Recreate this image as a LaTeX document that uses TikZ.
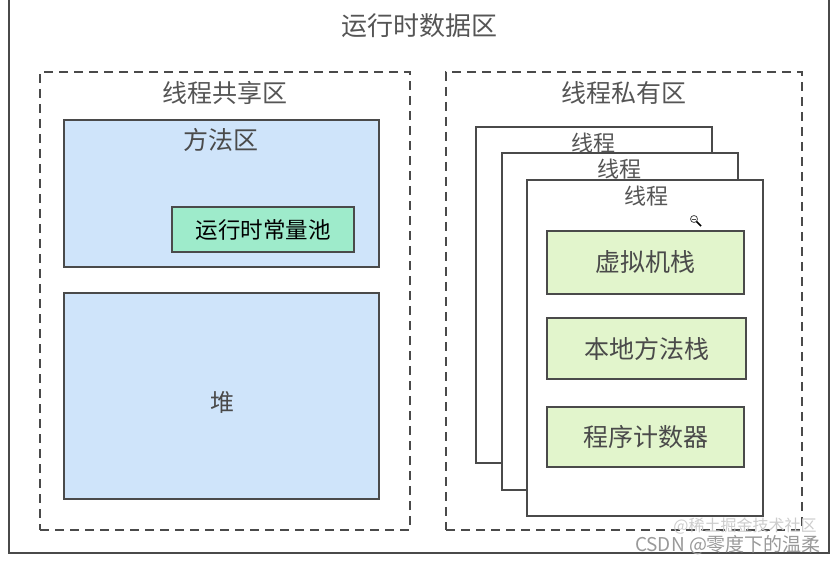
\documentclass[tikz,border=0pt]{standalone}
\usepackage{fontspec}
\setmainfont{Noto Sans CJK SC}
\definecolor{lineGray}{HTML}{4A4A4A}
\definecolor{txtGray}{HTML}{555555}
\definecolor{areaBlue}{HTML}{CFE4FA}
\definecolor{poolGreen}{HTML}{9EEBCB}
\definecolor{stackGreen}{HTML}{E2F5CC}

\begin{document}
\begin{tikzpicture}[x=1pt, y=-1pt,
    area/.style={draw=lineGray, line width=2pt, minimum width=#1, inner sep=0pt},
    zone/.style={draw=lineGray, line width=2pt, dash pattern=on 9pt off 6pt, inner sep=0pt},
    title/.style={text=txtGray, font=\fontsize{25}{28}\selectfont, inner sep=0pt},
    inbox/.style={text=lineGray, font=\fontsize{25}{28}\selectfont, inner sep=0pt}]
    \useasboundingbox (0,0) rectangle (840,561);
    \fill[white] (0,0) rectangle (840,561);
    % outer frame
    \node[area=820pt, minimum height=555pt] (rtdata) at (419,275.5) {};
    \node[title, font=\fontsize{26}{30}\selectfont] (rtdataT) at (419,26) {运行时数据区};
    % shared part
    \node[zone, minimum width=370pt, minimum height=458pt] (shared) at (225,301) {};
    \node[title] (sharedT) at (225,93) {线程共享区};
    \node[area=315pt, minimum height=147pt, fill=areaBlue] (method) at (221.5,193.5) {};
    \node[inbox] (methodT) at (221,140) {方法区};
    \node[area=182pt, minimum height=45pt, fill=poolGreen, line width=1.8pt] (pool) at (263,229.5)
        {\fontsize{22.5}{26}\selectfont 运行时常量池};
    \node[area=315pt, minimum height=206pt, fill=areaBlue] (heap) at (221.5,396) {};
    \node[inbox, font=\fontsize{24}{28}\selectfont] (heapT) at (222,402) {堆};
    % private part
    \node[zone, minimum width=356pt, minimum height=458pt] (private) at (624,301) {};
    \node[title] (privateT) at (624,93) {线程私有区};
    \foreach \i in {0,1,2} {
        \node[area=236pt, minimum height=336pt, fill=white] (thread\i) at (594+25.5*\i,295+26.5*\i) {};
        \node[title, font=\fontsize{22}{26}\selectfont] (thread\i T) at (593+26.5*\i,143+26.5*\i) {线程};
    }
    \node[area=197pt, minimum height=63pt, fill=stackGreen, text=lineGray, font=\fontsize{25}{28}\selectfont]
        (vmstack) at (645.5,262.5) {虚拟机栈};
    \node[area=199pt, minimum height=61pt, fill=stackGreen, text=lineGray, font=\fontsize{25}{28}\selectfont]
        (nativestack) at (646.5,348.5) {本地方法栈};
    \node[area=197pt, minimum height=60pt, fill=stackGreen, text=lineGray, font=\fontsize{25}{28}\selectfont]
        (pc) at (645.5,437) {程序计数器};
    % cursor
    \draw[lineGray, line width=0.8pt] (694,219) circle (3.5pt);
    \draw[lineGray, line width=0.8pt] (692,219) -- (696,219);
    \draw[black, line width=1.6pt] (696.5,221.5) -- (701,226);
    % watermark
    \node[text=gray!40, font=\fontsize{16}{18}\selectfont, inner sep=0pt] (markA) at (745,526) {@稀土掘金技术社区};
    \node[text=gray!80, font=\fontsize{19}{22}\selectfont, inner sep=0pt] (markB) at (728,545) {CSDN @零度下的温柔};
\end{tikzpicture}
\end{document}
